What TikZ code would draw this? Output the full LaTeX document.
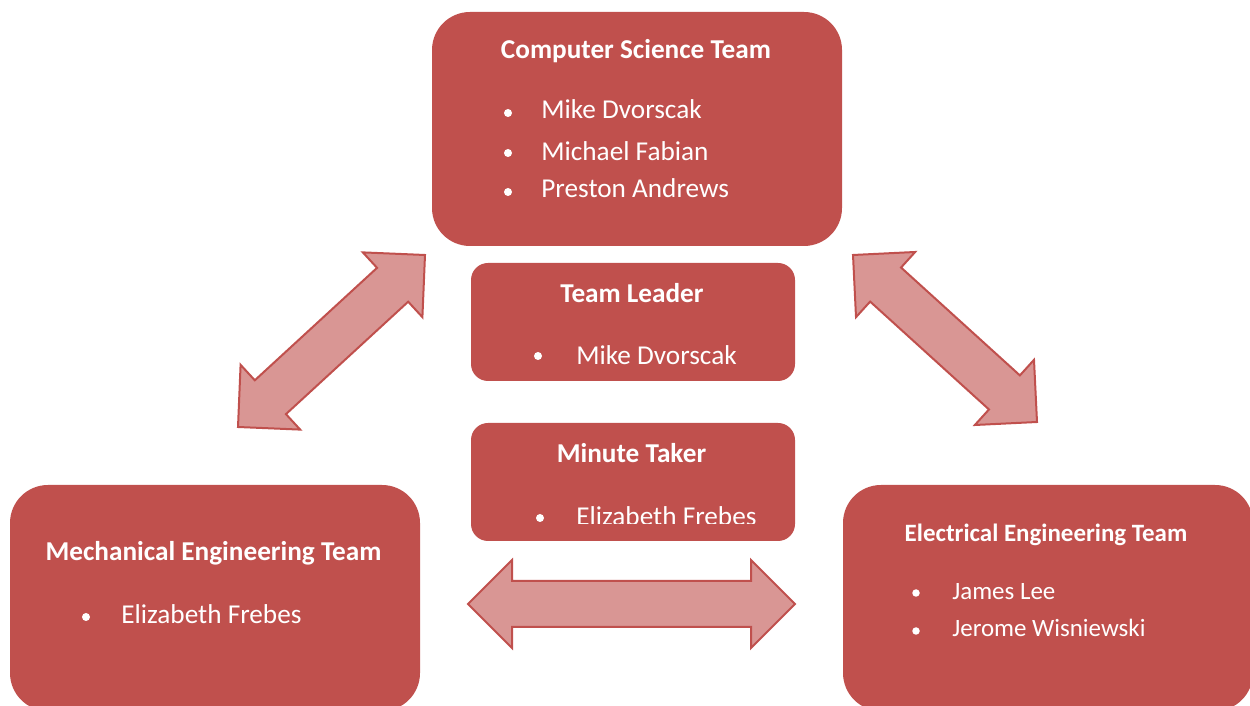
\documentclass[tikz,border=0pt]{standalone}
\usepackage{fontspec}
\setmainfont{Carlito}
\usetikzlibrary{calc}

\definecolor{boxred}{HTML}{C0504D}
\definecolor{arrowpink}{HTML}{D99694}

\tikzset{
  teambox/.style={rectangle, fill=boxred, draw=none, inner sep=0pt},
  heading/.style={text=white, font=\bfseries, anchor=base, inner sep=0pt},
  member/.style={text=white, anchor=base west, inner sep=0pt},
  blockarrow/.style={fill=arrowpink, draw=boxred, line width=0.040cm, line join=miter}
}

% Double headed block arrow between the tips #1 and #2
\newcommand{\twowayarrow}[2]{%
  \coordinate (#1-base) at ($(#1)!0.88cm!(#2)$);
  \coordinate (#2-base) at ($(#2)!0.88cm!(#1)$);
  \draw [blockarrow] (#1)
    -- ($(#1-base)!0.88cm!90:(#2)$) -- ($(#1-base)!0.46cm!90:(#2)$)
    -- ($(#2-base)!0.46cm!-90:(#1)$) -- ($(#2-base)!0.88cm!-90:(#1)$)
    -- (#2)
    -- ($(#2-base)!0.88cm!90:(#1)$) -- ($(#2-base)!0.46cm!90:(#1)$)
    -- ($(#1-base)!0.46cm!-90:(#2)$) -- ($(#1-base)!0.88cm!-90:(#2)$)
    -- cycle;%
}

\begin{document}
\begin{tikzpicture}
        \useasboundingbox (0,0) rectangle (25.000000,14.120000);
        \clip (0,0) rectangle (25.000000,14.120000);
        {\fontsize{15.5pt}{18pt}\selectfont

        % Drawing the five team boxes
        \node (cs) [teambox, rounded corners=0.76cm, minimum width=8.20cm, minimum height=4.68cm] at (12.740000,11.540000) {};%
        \node (leader) [teambox, rounded corners=0.34cm, minimum width=6.48cm, minimum height=2.36cm] at (12.660000,7.680000) {};%
        \node (minute) [teambox, rounded corners=0.34cm, minimum width=6.48cm, minimum height=2.36cm] at (12.660000,4.480000) {};%
        \node (mech) [teambox, rounded corners=0.76cm, minimum width=8.20cm, minimum height=4.52cm] at (4.300000,2.160000) {};%
        \node (elec) [teambox, rounded corners=0.76cm, minimum width=8.20cm, minimum height=4.52cm] at (20.960000,2.160000) {};%

        % Computer science team
        \node (cshead) [heading] at (12.720000,12.940000) {Computer Science Team};%
        \fill [white] (10.160000,11.860000) circle (0.080000);%
        \node (csone) [member] at (10.820000,11.740000) {Mike Dvorscak};%
        \fill [white] (10.160000,11.060000) circle (0.080000);%
        \node (cstwo) [member] at (10.820000,10.900000) {Michael Fabian};%
        \fill [white] (10.160000,10.280000) circle (0.080000);%
        \node (csthree) [member] at (10.820000,10.160000) {Preston Andrews};%

        % Team leader
        \node (leaderhead) [heading] at (12.640000,8.060000) {Team Leader};%
        \fill [white] (10.760000,7.000000) circle (0.080000);%
        \node (leaderone) [member] at (11.520000,6.820000) {Mike Dvorscak};%

        % Minute taker, last line cut off by the box
        \node (minutehead) [heading] at (12.630000,4.860000) {Minute Taker};%
        \begin{scope}
          \clip (9.420000,5.660000) rectangle (15.900000,3.640000);
          \fill [white] (10.800000,3.760000) circle (0.080000);%
          \node (minuteone) [member] at (11.520000,3.600000) {Elizabeth Frebes};%
        \end{scope}

        % Mechanical engineering team
        \node (mechhead) [heading] at (4.270000,2.900000) {Mechanical Engineering Team};%
        \fill [white] (1.720000,1.780000) circle (0.080000);%
        \node (mechone) [member] at (2.420000,1.640000) {Elizabeth Frebes};%

        % Electrical engineering team, set a little smaller
        {\fontsize{14.2pt}{17pt}\selectfont
        \node (elechead) [heading] at (20.920000,3.280000) {Electrical Engineering Team};%
        \fill [white] (18.320000,2.260000) circle (0.075000);%
        \node (elecone) [member] at (19.040000,2.120000) {James Lee};%
        \fill [white] (18.320000,1.500000) circle (0.075000);%
        \node (electwo) [member] at (19.040000,1.380000) {Jerome Wisniewski};%
        }

        % Drawing the arrows between the teams
        \coordinate (mechtip) at (4.760000,5.580000);%
        \coordinate (csleft) at (8.500000,9.020000);%
        \coordinate (csright) at (17.060000,9.020000);%
        \coordinate (electip) at (20.740000,5.680000);%
        \coordinate (lowleft) at (9.360000,2.040000);%
        \coordinate (lowright) at (15.900000,2.040000);%
        \twowayarrow{mechtip}{csleft}
        \twowayarrow{csright}{electip}
        \twowayarrow{lowleft}{lowright}
        }
    \end{tikzpicture}
\end{document}
